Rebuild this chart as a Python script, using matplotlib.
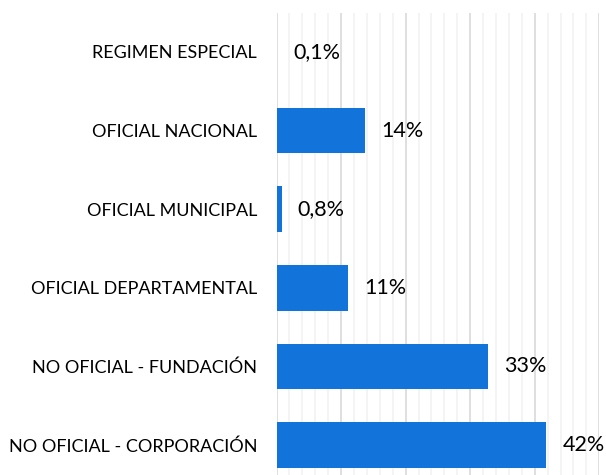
import matplotlib
matplotlib.use("Agg")
import matplotlib.pyplot as plt
import numpy as np
from matplotlib.ticker import MultipleLocator

categories = ["NO OFICIAL - CORPORACIÓN", "NO OFICIAL - FUNDACIÓN", "OFICIAL DEPARTAMENTAL",
              "OFICIAL MUNICIPAL", "OFICIAL NACIONAL", "REGIMEN ESPECIAL"]
values = [41.8, 32.7, 11.1, 0.8, 13.7, 0.1]
value_labels = ["42%", "33%", "11%", "0,8%", "14%", "0,1%"]

plt.rcParams['font.family'] = ['Lato', 'DejaVu Sans']

fig = plt.figure(figsize=(6.06, 4.75), dpi=100)
ax = fig.add_axes([276.5/606, (475-484.3)/475, (599.3-276.5)/606, (484.3-12.7)/475])

y = np.arange(len(categories))
ax.barh(y, values, height=0.58, color='#1273DB', zorder=3)
for yi, v, lab in zip(y, values, value_labels):
    ax.text(v + 2.5, yi, lab, va='center', ha='left', fontsize=15.5, color='black', zorder=4)

ax.set_xlim(0, 50)
ax.set_ylim(-0.5, 5.5)
ax.set_yticks(y)
ax.set_yticklabels(categories, fontsize=13)
ax.tick_params(axis='y', length=0, pad=14)
ax.xaxis.set_major_locator(MultipleLocator(10))
ax.xaxis.set_minor_locator(MultipleLocator(2))
ax.tick_params(axis='x', which='both', length=0, labelbottom=False)
ax.grid(axis='x', which='major', color='#D9D9D9', linewidth=1.2, zorder=1)
ax.grid(axis='x', which='minor', color='#F2F2F2', linewidth=1.2, zorder=0)
ax.grid(axis='y', visible=False)
for s in ax.spines.values():
    s.set_visible(False)

fig.savefig("out.png", dpi=100)
